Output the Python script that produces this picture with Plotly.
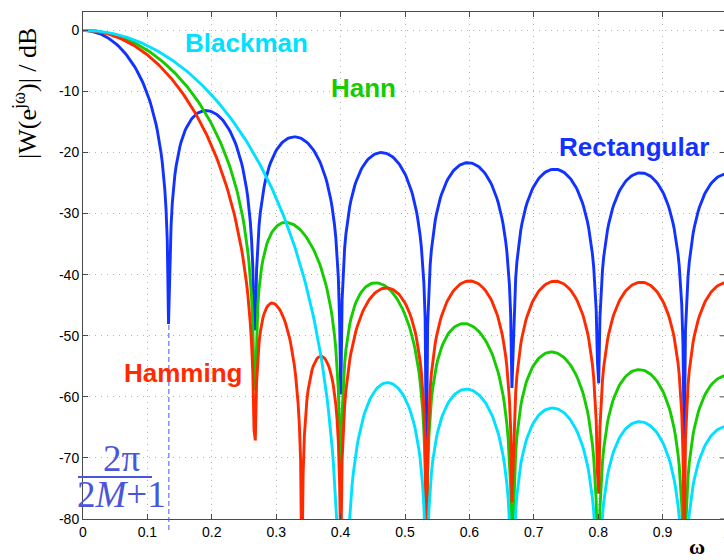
import numpy as np
import plotly.graph_objects as go

# ---- data: window coefficients w[|n|], n = 0..M  (M = 7, 2M+1 = 15 taps) ----
rect_half = [1.0, 1.0, 1.0, 1.0, 1.0, 1.0, 1.0, 1.0]
hann_half = [1.0, 0.956773, 0.834565, 0.654508, 0.447736, 0.25, 0.095492, 0.010926]
hamming_half = [1.0, 0.960231, 0.847800, 0.682148, 0.491917, 0.31, 0.167852, 0.090052]
blackman_half = [1.0, 0.930303, 0.746203, 0.509787, 0.289484, 0.13, 0.040213, 0.004010]
window_names = ["Rectangular", "Hann", "Hamming", "Blackman"]
n_freq = 512  # frequency samples on [0, pi)
x_ticks = [0, 0.1, 0.2, 0.3, 0.4, 0.5, 0.6, 0.7, 0.8, 0.9]
y_ticks = [0, -10, -20, -30, -40, -50, -60, -70, -80]
null_marker = 2.0 / 15.0  # 2π/(2M+1) in units of π

# ---- spectrum (DTFT of symmetric window) ----
omega = np.arange(n_freq) / n_freq  # ω/π


def spectrum_db(half):
    half = np.asarray(half)
    k = np.arange(len(half))
    W = half[0] + 2 * np.sum(half[1:, None] * np.cos(np.pi * k[1:, None] * omega[None, :]), axis=0)
    W0 = half[0] + 2 * np.sum(half[1:])
    return 20 * np.log10(np.maximum(np.abs(W) / W0, 1e-12))


colors = {"Rectangular": "#1232ff", "Hann": "#14cc00", "Hamming": "#ff2a00", "Blackman": "#00e0ff"}
halves = {"Rectangular": rect_half, "Hann": hann_half, "Hamming": hamming_half, "Blackman": blackman_half}

fig = go.Figure()
for name in window_names:
    fig.add_trace(go.Scatter(x=omega, y=spectrum_db(halves[name]), mode="lines",
                             line=dict(color=colors[name], width=2.9), name=name,
                             showlegend=False, hoverinfo="skip"))

W, H = 724, 560
L, T = 83, 12
BOT = 519
B = H - BOT
pw, ph = W - L, H - T - B
x_scale = 644.0  # pixels per unit of ω/π


def px(xp):  # viewport pixel -> paper
    return (xp - L) / pw


def py(yp):
    return (BOT - yp) / ph


axis_col = "#4a4a4a"
grid_col = "#b4b4b4"

fig.update_layout(
    width=W, height=H,
    margin=dict(l=L, r=0, t=T, b=B, autoexpand=False),
    paper_bgcolor="white", plot_bgcolor="white",
    font=dict(family="Liberation Sans, Arial, sans-serif", size=14, color="black"),
    xaxis=dict(range=[0, pw / x_scale], tickvals=x_ticks, ticktext=[str(v) for v in x_ticks],
               showline=True, linecolor=axis_col, linewidth=1, mirror="ticks",
               ticks="inside", ticklen=5, tickcolor=axis_col,
               showgrid=True, gridcolor=grid_col, griddash="1px,5px", gridwidth=1,
               zeroline=False, automargin=False),
    yaxis=dict(range=[-80, 3], tickvals=y_ticks, ticktext=[str(v) for v in y_ticks],
               showline=True, linecolor=axis_col, linewidth=1,
               ticks="inside", ticklen=5, tickcolor=axis_col,
               showgrid=True, gridcolor=grid_col, griddash="1px,5px", gridwidth=1,
               zeroline=False, automargin=False),
)

# right-side inward ticks (right axis line sits just outside the view)
for yv in y_ticks:
    fig.add_shape(type="line", xref="paper", yref="y", x0=1 - 4 / pw, x1=1, y0=yv, y1=yv,
                  line=dict(color=axis_col, width=1))

# tick label "1" of the x axis, mostly outside the view (as in the reference)
fig.add_annotation(text="1", xref="paper", yref="paper", x=px(L + x_scale * 1.0), y=py(533),
                   showarrow=False, xanchor="center", yanchor="middle",
                   font=dict(size=14, color="black"))

label_font = "Liberation Sans, Arial, sans-serif"
labels = [("Blackman", 246, 43), ("Hann", 363, 88), ("Rectangular", 634, 147), ("Hamming", 183, 373)]
for name, xp, yp in labels:
    fig.add_annotation(text="<b>%s</b>" % name, xref="paper", yref="paper", x=px(xp), y=py(yp),
                       showarrow=False, xanchor="center", yanchor="middle",
                       font=dict(family=label_font, size=26, color=colors[name]))

# 2π/(2M+1) marker
frac_col = "#4a56d9"
serif = "Liberation Serif, Times New Roman, serif"
fig.add_shape(type="line", xref="x", yref="paper", x0=null_marker, x1=null_marker,
              y0=py(530), y1=py(323), line=dict(color=frac_col, width=1, dash="5px,3px"))
fig.add_annotation(text="2π", xref="paper", yref="paper", x=px(122), y=py(458),
                   showarrow=False, xanchor="center", yanchor="middle",
                   font=dict(family=serif, size=37, color=frac_col))
fig.add_annotation(text="2<i>M</i>+1", xref="paper", yref="paper", x=px(121), y=py(494),
                   showarrow=False, xanchor="center", yanchor="middle",
                   font=dict(family=serif, size=37, color=frac_col))
fig.add_shape(type="line", xref="paper", yref="paper", x0=px(78), x1=px(152), y0=py(477), y1=py(477),
              line=dict(color=frac_col, width=2))

# axis titles
fig.add_annotation(text="|W(e<sup>jω</sup>)| / dB", xref="paper", yref="paper", x=px(25), y=py(94),
                   showarrow=False, textangle=-90, xanchor="center", yanchor="middle",
                   font=dict(family=serif, size=26, color="black"))
fig.add_annotation(text="<b>ω</b>", xref="paper", yref="paper", x=px(697), y=py(546),
                   showarrow=False, xanchor="center", yanchor="middle",
                   font=dict(family=serif, size=22, color="black"))

fig.write_html("out.html", config={"displayModeBar": False},
               post_script="document.body.style.margin='0';document.body.style.overflow='hidden';")
